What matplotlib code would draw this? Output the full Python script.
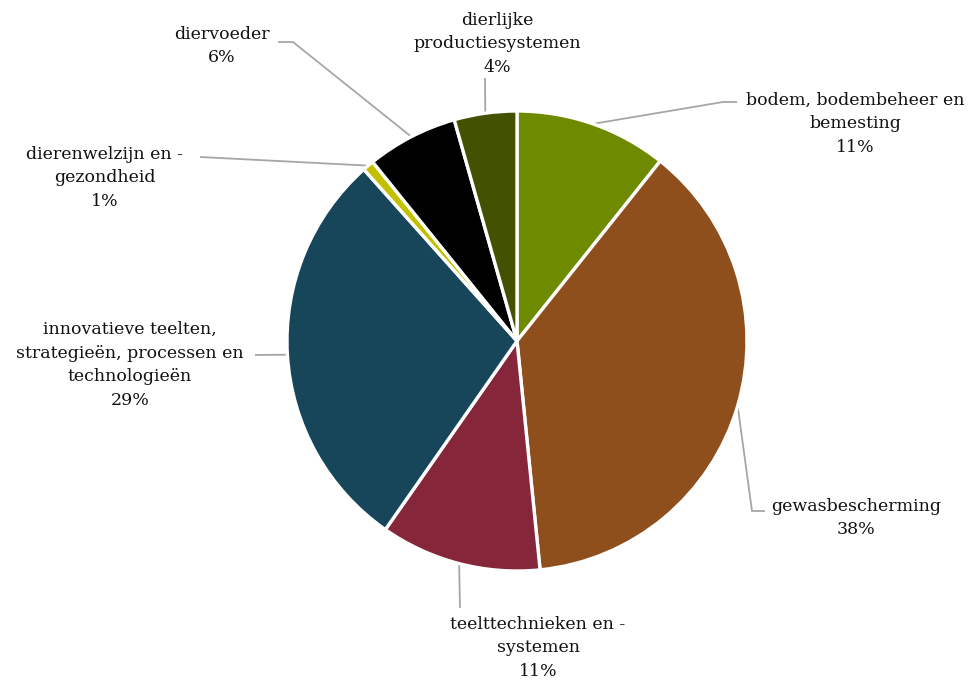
import numpy as np
import matplotlib
matplotlib.use("Agg")
import matplotlib.pyplot as plt

W, H = 973, 686

labels = [
    "bodem, bodembeheer en\nbemesting",
    "gewasbescherming",
    "teelttechnieken en -\nsystemen",
    "innovatieve teelten,\nstrategieën, processen en\ntechnologieën",
    "dierenwelzijn en -\ngezondheid",
    "diervoeder",
    "dierlijke\nproductiesystemen",
]
values = [10.7, 37.7, 11.3, 28.7, 0.8, 6.4, 4.4]
colors = ["#6e8b00", "#8f4f1c", "#85263b", "#17455a", "#c2c000", "#000000", "#435200"]

# label layout in pixel coords (y from top): text x, text y, ha, elbow, end
layout = [
    (855, 124, "center", (723, 102), (737, 102)),
    (856, 518, "center", (752, 511), (765, 511)),
    (538, 648, "center", (460, 608), (460, 608)),
    (130, 365, "center", (255, 355), (255, 355)),
    (105, 178, "center", (200, 157), (200, 157)),
    (222, 46, "center", (293, 42), (278, 42)),
    (497, 44, "center", (485, 78), (485, 78)),
]

cx, cy, r = 517, 341, 230

fig = plt.figure(figsize=(W / 100, H / 100), dpi=100)
ax = fig.add_axes([0, 0, 1, 1])

wedges, _ = ax.pie(values, colors=colors, startangle=90, counterclock=False,
                   center=(cx, H - cy), radius=r,
                   wedgeprops=dict(edgecolor="white", linewidth=2.4))
ax.set_xlim(0, W)
ax.set_ylim(0, H)
ax.set_aspect("equal")
ax.axis("off")

total = sum(values)
for w, lab, v, (tx, ty, ha, elbow, end) in zip(wedges, labels, values, layout):
    mid = np.deg2rad((w.theta1 + w.theta2) / 2)
    px = cx + r * np.cos(mid)
    py = (H - cy) + r * np.sin(mid)
    ax.plot([px, elbow[0], end[0]], [py, H - elbow[1], H - end[1]],
            color="#a6a6a6", lw=1.3, solid_capstyle="butt", zorder=0)
    pct = f"{v / total * 100:.0f}%"
    ax.text(tx, H - ty, lab + "\n" + pct, ha=ha, va="center",
            fontsize=12.5, family="DejaVu Serif", color="#111111",
            linespacing=1.5)

fig.savefig("out.png", dpi=100, facecolor="white")
